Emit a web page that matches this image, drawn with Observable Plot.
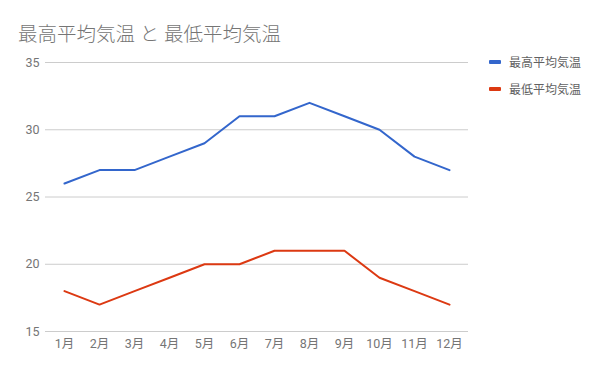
<!DOCTYPE html>
<html><head><meta charset="utf-8">
<script src="https://cdn.jsdelivr.net/npm/d3@7"></script>
<script src="https://cdn.jsdelivr.net/npm/@observablehq/plot@0.6"></script>
<style>
body{margin:0;background:#fff;font-family:Roboto,"Noto Sans CJK JP",sans-serif;}
#wrap{position:relative;width:600px;height:371px;}
#title{position:absolute;left:18px;top:18px;font-size:19.5px;font-weight:300;color:#757575;white-space:nowrap;}
.leg{position:absolute;left:489px;font-size:12px;color:#616161;display:flex;align-items:center;white-space:nowrap;}
.sw{width:12px;height:4px;border-radius:1px;margin-right:8px;}
</style></head><body>
<div id="wrap"><div id="chart"></div>
<div id="title">最高平均気温 と 最低平均気温</div>
<div id="legend"></div></div>
<script>
const months = ["1月","2月","3月","4月","5月","6月","7月","8月","9月","10月","11月","12月"];
const maxTemp = [26,27,27,28,29,31,31,32,31,30,28,27];
const minTemp = [18,17,18,19,20,20,21,21,21,19,18,17];
const seriesNames = ["最高平均気温","最低平均気温"];
const colors = ["#3366cc","#dc3912"];
const yTicks = [15,20,25,30,35];

const data = [];
months.forEach((m,i)=>{
  data.push({month:m, value:maxTemp[i], series:seriesNames[0]});
  data.push({month:m, value:minTemp[i], series:seriesNames[1]});
});

const chart = Plot.plot({
  width:600, height:371,
  marginLeft:45, marginRight:132, marginTop:62, marginBottom:40,
  style:{fontFamily:'Roboto,"Noto Sans CJK JP",sans-serif', fontSize:"12.5px", color:"#757575", background:"transparent"},
  x:{type:"point", domain:months, padding:0.5, label:null},
  y:{domain:[15,35], label:null},
  color:{domain:seriesNames, range:colors},
  marks:[
    Plot.ruleY(yTicks, {stroke:"#cccccc", strokeWidth:1}),
    Plot.axisY({ticks:yTicks, tickSize:0, tickPadding:6, label:null, fill:"#757575"}),
    Plot.axisX({tickSize:0, tickPadding:8, label:null, fill:"#757575"}),
    Plot.line(data, {x:"month", y:"value", z:"series", stroke:"series", strokeWidth:2})
  ]
});
document.getElementById("chart").appendChild(chart);

const leg = document.getElementById("legend");
seriesNames.forEach((n,i)=>{
  const d = document.createElement("div");
  d.className="leg";
  d.style.top = (53 + i*27) + "px";
  d.innerHTML = `<span class="sw" style="background:${colors[i]}"></span><span>${n}</span>`;
  leg.appendChild(d);
});
</script></body></html>
